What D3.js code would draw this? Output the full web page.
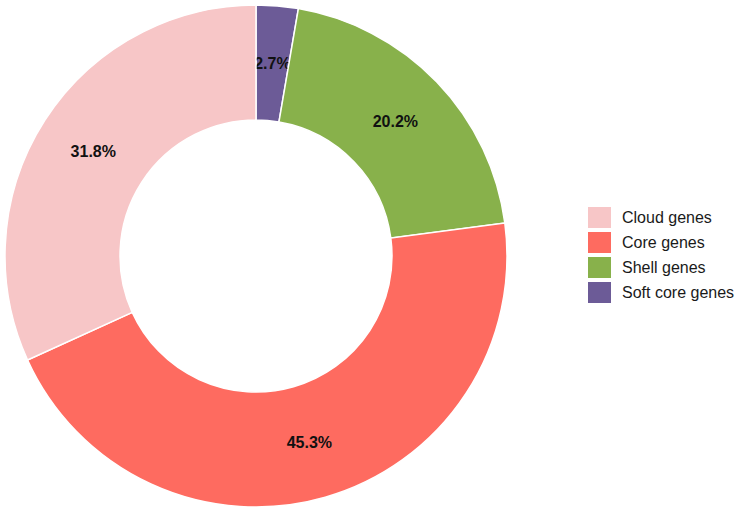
<!DOCTYPE html>
<html>
<head>
<meta charset="utf-8">
<script src="https://cdn.jsdelivr.net/npm/d3@7"></script>
<style>
  body { margin: 0; background: #fff; }
  text { font-family: "Liberation Sans", Arial, sans-serif; }
</style>
</head>
<body>
<div id="chart"><svg></svg></div>
<script>
// gene categories, in drawing order (clockwise from 12 o'clock)
var categories = ["Soft core genes", "Shell genes", "Core genes", "Cloud genes"];
var percents = [2.7, 20.2, 45.3, 31.8];
var colours = ["#6c5b97", "#88b14b", "#fe6b60", "#f7c6c7"];
// legend is listed alphabetically
var legendOrder = ["Cloud genes", "Core genes", "Shell genes", "Soft core genes"];

var width = 738, height = 511;
var cx = 256, cy = 256,
    outerR = 251, innerR = 136;

var svg = d3.select("#chart svg").attr("width", width).attr("height", height);

var color = d3.scaleOrdinal().domain(categories).range(colours);

var pie = d3.pie().sort(null).value(function (d) { return d.value; });
var arc = d3.arc().innerRadius(innerR).outerRadius(outerR);

var data = categories.map(function (c, i) {
    return { id: c, value: percents[i] };
});

var g = svg.append("g").attr("transform", "translate(" + cx + "," + cy + ")");

var slices = g.selectAll(".slice")
    .data(pie(data))
    .enter().append("g")
    .attr("class", "slice");

slices.append("path")
    .attr("d", arc)
    .attr("fill", function (d) { return color(d.data.id); })
    .attr("stroke", "#fff")
    .attr("stroke-width", 1.5);

slices.append("text")
    .attr("transform", function (d) {
        var c = arc.centroid(d);
        return "translate(" + c[0] + "," + c[1] + ")";
    })
    .attr("text-anchor", "middle")
    .attr("dy", "0.35em")
    .style("font-size", "16px")
    .style("font-weight", "bold")
    .attr("fill", "#111")
    .text(function (d) { return d.data.value.toFixed(1) + "%"; });

// legend
var legend = svg.append("g").attr("transform", "translate(588,207)");

var items = legend.selectAll(".item")
    .data(legendOrder)
    .enter().append("g")
    .attr("class", "item")
    .attr("transform", function (d, i) { return "translate(0," + (i * 25) + ")"; });

items.append("rect")
    .attr("width", 23)
    .attr("height", 21)
    .attr("fill", function (d) { return color(d); });

items.append("text")
    .attr("x", 34)
    .attr("y", 10.5)
    .attr("dy", "0.35em")
    .style("font-size", "16px")
    .attr("fill", "#1a1a1a")
    .text(function (d) { return d; });
</script>
</body>
</html>
